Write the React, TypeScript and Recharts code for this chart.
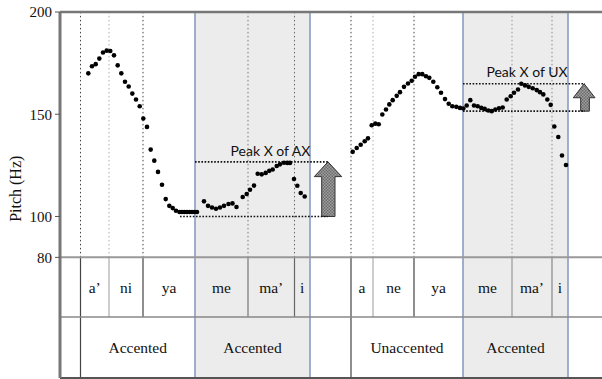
import { ScatterChart, Scatter, XAxis, YAxis, ReferenceArea, ReferenceLine, ReferenceDot } from 'recharts';

// time (arbitrary units along the utterance) and pitch (Hz) of each f0 sample
const axTime = [28.3, 32, 35.7, 39.3, 43, 46.7, 50.3, 54, 57.7, 61.3, 65, 68.7, 72.3, 76, 79.7, 83.3, 87, 90.7, 94.3, 98, 102, 105.7, 109.3, 112.7, 116, 119.5, 122, 124.5, 127, 129.5, 132, 134.5, 137, 144, 148, 152, 156, 160, 164, 168.5, 172.5, 176.5, 182.7, 186.7, 190, 194, 197.7, 201.7, 205.7, 209.3, 212.7, 216.7, 220, 224, 227.3, 230, 234, 237.3, 240.7, 244.7];
const axPitch = [170.0, 173.5, 174.5, 177.2, 180.2, 181.1, 180.9, 178.8, 173.9, 170.0, 165.9, 163.6, 160.1, 157.2, 153.9, 147.9, 143.8, 132.7, 127.3, 121.8, 115.5, 108.5, 105.2, 104.1, 102.8, 102.2, 102.2, 102.2, 102.2, 102.2, 102.2, 102.2, 102.2, 107.4, 105.2, 104.4, 103.8, 104.4, 105.2, 106.1, 106.4, 104.6, 109.5, 111.0, 113.1, 115.1, 120.9, 120.6, 121.3, 122.3, 123.0, 124.7, 125.5, 126.3, 126.2, 126.2, 118.3, 115.0, 111.5, 109.8];

const uxTime = [292.7, 296.7, 300.7, 304.7, 308, 311.7, 315.3, 318.7, 322.3, 326, 329.3, 332.7, 336.7, 340, 344, 348, 351.7, 355, 358.7, 362.3, 366, 369.3, 373.3, 377.3, 381, 385, 388.7, 392.3, 396.3, 400, 403.3, 406.7, 410.3, 414, 417.7, 421.3, 424.7, 428.3, 431.7, 435.3, 439, 442.7, 446.7, 450.7, 454, 458, 461.3, 465, 468.7, 472.7, 476.7, 480, 483.3, 487.3, 490.7, 494.3, 498.3, 502, 506];
const uxPitch = [131.6, 133.5, 135.1, 136.8, 138.2, 144.6, 145.4, 145.1, 149.9, 152.3, 154.8, 156.9, 159.0, 160.8, 163.4, 165.0, 166.4, 168.3, 169.6, 169.6, 168.6, 167.8, 165.9, 163.2, 160.5, 157.4, 155.1, 153.9, 153.6, 153.1, 152.8, 154.3, 156.9, 154.3, 153.9, 153.1, 152.6, 151.8, 151.5, 152.3, 152.9, 153.3, 157.2, 158.8, 160.5, 162.1, 164.9, 164.1, 163.4, 162.7, 161.8, 160.8, 159.7, 157.2, 154.6, 144.0, 138.9, 129.8, 125.2];

const syllables = ['a’', 'ni', 'ya', 'me', 'ma’', 'i', 'a', 'ne', 'ya', 'me', 'ma’', 'i'];
const syllableStart = [20.5, 49, 83, 135, 188, 234.5, 291, 313, 354, 403, 452, 492];
const syllableEnd = [49, 83, 135, 188, 234.5, 250, 313, 354, 403, 452, 492, 508];

const words = ['Accented', 'Accented', 'Unaccented', 'Accented'];
const wordStart = [20.5, 135, 291, 403];
const wordEnd = [135, 250, 403, 508];
const focusWords = [1, 3]; // shaded target words

const yTicks = [80, 100, 150, 200];

// peak excursion callouts
const peakLabels = ['Peak X of AX', 'Peak X of UX'];
const peakLow = [100, 151.5];
const peakHigh = [126.7, 164.9];
const peakLineFrom = [120, 403];
const peakLineTo = [268, 525];
const peakLabelX = [210.5, 467];
const peakLabelY = [129.8, 168];
const arrowFrom = [254.3, 513.3];
const arrowTo = [281.7, 535];

const axData = axTime.map((t, i) => ({ t, hz: axPitch[i] }));
const uxData = uxTime.map((t, i) => ({ t, hz: uxPitch[i] }));

const TOP = 200;
const FLOOR = 80;
const ROW = 50.8;
const BOTTOM = 21;

const serif = '"Liberation Serif", "Times New Roman", serif';
const sans = 'Lato, "Open Sans", sans-serif';

// colours for the syllable boundary lines (dotted in plot, solid in table)
const boundaryColor: Record<number, string> = {
  20.5: '#444', 49: '#aaa', 83: '#444', 188: '#777', 234.5: '#666',
  291: '#444', 313: '#aaa', 354: '#444', 452: '#999', 492: '#888',
};

const dot = (p: any) => <circle cx={p.cx} cy={p.cy} r={2.3} fill="#000" />;

const cellText = (value: string, size: number) => (p: any) => {
  const vb = p.viewBox;
  return (
    <text x={vb.x + vb.width / 2} y={vb.y + vb.height / 2} textAnchor="middle" dominantBaseline="central"
      fontFamily={serif} fontSize={size} fill="#111">{value}</text>
  );
};

const makeArrow = (id: string, head: number, s1: number, s2: number) => (p: any) => {
  const { x, y, width: w, height: h } = p;
  const hb = y + h * head;
  const a = x + w * s1;
  const b = x + w * s2;
  const pts = `${x + w / 2},${y} ${x + w},${hb} ${b},${hb} ${b},${y + h} ${a},${y + h} ${a},${hb} ${x},${hb}`;
  return (
    <g>
      <defs>
        <pattern id={id} width={3} height={3} patternUnits="userSpaceOnUse">
          <rect width={3} height={3} fill="#a0a0a0" />
          <rect width={1.5} height={1.5} fill="#6a6a6a" />
          <rect x={1.5} y={1.5} width={1.5} height={1.5} fill="#6a6a6a" />
        </pattern>
      </defs>
      <polygon points={pts} fill={`url(#${id})`} stroke="#333" strokeWidth={1} />
    </g>
  );
};
const arrows = [makeArrow('hatchA', 0.27, 0.27, 0.755), makeArrow('hatchB', 0.51, 0.34, 0.74)];

export default function App() {
  const allBounds = Object.keys(boundaryColor).map(Number);
  return (
    <div style={{ width: 602, height: 379 }}>
      <style>{'body{margin:0}'}</style>
      <ScatterChart width={602} height={379} margin={{ top: 12, right: 0, bottom: 1, left: 0 }}>
        <XAxis type="number" dataKey="t" domain={[0, 542]} hide />
        <YAxis
          type="number"
          dataKey="hz"
          domain={[BOTTOM, TOP]}
          ticks={yTicks}
          width={60}
          tickSize={5}
          tickMargin={3}
          tick={{ fontFamily: serif, fontSize: 15, fill: '#111' }}
          tickLine={{ stroke: '#555' }}
          axisLine={{ stroke: '#777', strokeWidth: 3 }}
          label={{
            content: (p: any) => {
              const vb = p.viewBox;
              const cx = vb.x + 16;
              const cy = vb.y + vb.height * 0.483;
              return (
                <text x={cx} y={cy} transform={`rotate(-90 ${cx} ${cy})`} textAnchor="middle" dominantBaseline="central"
                  fontFamily={serif} fontSize={16} fill="#111">Pitch (Hz)</text>
              );
            },
          }}
        />

        {focusWords.map(i => (
          <ReferenceArea key={`shade${i}`} x1={wordStart[i]} x2={wordEnd[i]} y1={BOTTOM} y2={TOP}
            fill="#ececec" fillOpacity={1} stroke="#8595c0" strokeWidth={1.5} />
        ))}

        {allBounds.map(b => (
          <ReferenceLine key={`g${b}`} segment={[{ x: b, y: FLOOR }, { x: b, y: TOP }]}
            stroke={boundaryColor[b]} strokeWidth={1} strokeDasharray="1.5 2.5" />
        ))}
        {allBounds.map(b => (
          <ReferenceLine key={`s${b}`} segment={[{ x: b, y: ROW }, { x: b, y: FLOOR }]}
            stroke={boundaryColor[b]} strokeWidth={1.2} />
        ))}
        {[20.5, 291].map(b => (
          <ReferenceLine key={`w${b}`} segment={[{ x: b, y: BOTTOM }, { x: b, y: ROW }]} stroke="#444" strokeWidth={1.2} />
        ))}

        {syllables.map((s, i) => (
          <ReferenceArea key={`syl${i}`} x1={syllableStart[i]} x2={syllableEnd[i]} y1={ROW} y2={FLOOR}
            fill="none" stroke="none" label={{ content: cellText(s, 15.5) }} />
        ))}
        {words.map((w, i) => (
          <ReferenceArea key={`word${i}`} x1={wordStart[i]} x2={wordEnd[i]} y1={BOTTOM} y2={ROW}
            fill="none" stroke="none" label={{ content: cellText(w, 15.5) }} />
        ))}

        <ReferenceLine y={TOP} stroke="#777" strokeWidth={2.5} />
        <ReferenceLine y={FLOOR} stroke="#999" strokeWidth={2} />
        <ReferenceLine y={ROW} stroke="#888" strokeWidth={1.5} />
        <ReferenceLine y={BOTTOM} stroke="#555" strokeWidth={2} />

        {peakLabels.map((lab, i) => (
          <ReferenceLine key={`lo${i}`} segment={[{ x: peakLineFrom[i], y: peakLow[i] }, { x: peakLineTo[i], y: peakLow[i] }]}
            stroke="#111" strokeWidth={1.6} strokeDasharray="1.6 1.6" />
        ))}
        {peakLabels.map((lab, i) => (
          <ReferenceLine key={`hi${i}`} segment={[{ x: wordStart[focusWords[i]], y: peakHigh[i] }, { x: peakLineTo[i], y: peakHigh[i] }]}
            stroke="#111" strokeWidth={1.6} strokeDasharray="1.6 1.6" />
        ))}
        {peakLabels.map((lab, i) => (
          <ReferenceArea key={`arr${i}`} x1={arrowFrom[i]} x2={arrowTo[i]} y1={peakLow[i]} y2={peakHigh[i]}
            shape={arrows[i]} />
        ))}
        {peakLabels.map((lab, i) => (
          <ReferenceDot key={`lab${i}`} x={peakLabelX[i]} y={peakLabelY[i]} r={0} stroke="none"
            label={{
              content: (p: any) => {
                const vb = p.viewBox;
                return (
                  <text x={vb.x + vb.width / 2} y={vb.y + vb.height / 2} textAnchor="middle"
                    fontFamily={sans} fontSize={14} fill="#111">{lab}</text>
                );
              },
            }} />
        ))}

        <Scatter data={axData} shape={dot} isAnimationActive={false} />
        <Scatter data={uxData} shape={dot} isAnimationActive={false} />
      </ScatterChart>
    </div>
  );
}
